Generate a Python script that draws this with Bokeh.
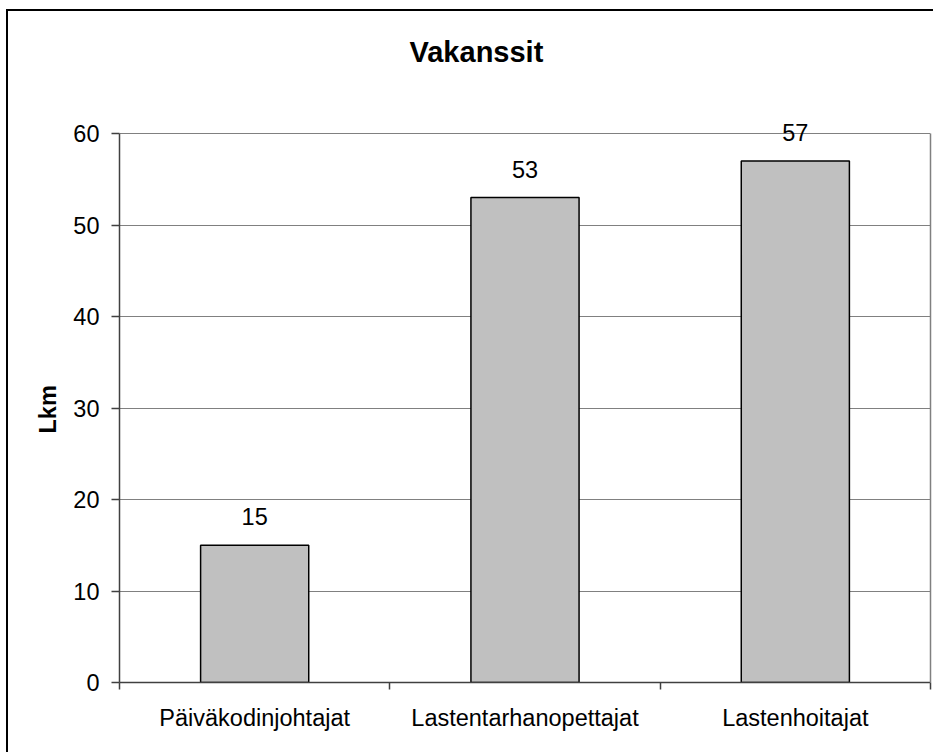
from bokeh.plotting import figure
from bokeh.models import Range1d, FixedTicker, ColumnDataSource, LabelSet, LinearAxis, Title
from bokeh.embed import file_html
from bokeh.resources import INLINE
from bokeh.core.properties import value

categories = ["Päiväkodinjohtajat", "Lastentarhanopettajat", "Lastenhoitajat"]
counts = [15, 53, 57]
y_ticks = [0, 10, 20, 30, 40, 50, 60]
title_text = "Vakanssit"
y_label = "Lkm"

FONT = "Liberation Sans"
AXIS_COLOR = "#404040"
GRID_COLOR = "#808080"

xs = [i + 0.5 for i in range(len(categories))]
src = ColumnDataSource(dict(x=xs, top=counts, label=[str(c) for c in counts]))

y_lo, y_hi = y_ticks[0], y_ticks[-1]
# the visible frame reaches a little above the top tick so the value labels fit
y_view_top = y_hi * 593 / 549

p = figure(width=927, height=743, output_backend="svg", toolbar_location=None,
           x_range=Range1d(0, len(categories)), y_range=Range1d(y_lo, y_view_top),
           min_border_left=111, min_border_right=5, min_border_top=78, min_border_bottom=72)
p.styles = {"border-left": "2px solid black", "border-top": "2px solid black",
            "margin-left": "6px", "margin-top": "9px"}

p.title = Title(text=title_text, align="left", offset=290, vertical_align="top",
                standoff=40, text_font=FONT, text_font_size="29px",
                text_font_style="bold", text_color="black")

p.add_layout(Title(text=y_label, align="left", offset=249, vertical_align="bottom",
                   standoff=20, text_font=FONT, text_font_size="23.5px",
                   text_font_style="bold", text_color="black"), "left")

p.outline_line_color = None
p.background_fill_color = "white"
p.border_fill_color = "white"

p.vbar(x="x", top="top", bottom=0, width=0.4, source=src,
       fill_color="#C0C0C0", line_color="black", line_width=1.5)

p.add_layout(LabelSet(x="x", y="top", text="label", source=src, y_offset=20,
                      text_align="center", text_baseline="alphabetic",
                      text_font=value(FONT), text_font_size="23.5px", text_color="black"))

# x axis
xa = p.xaxis[0]
xa.ticker = FixedTicker(ticks=xs, minor_ticks=list(range(len(categories) + 1)))
xa.major_label_overrides = {x: c for x, c in zip(xs, categories)}
xa.major_tick_out = 0
xa.major_tick_in = 0
xa.minor_tick_out = 7
xa.minor_tick_in = 0
xa.minor_tick_line_color = AXIS_COLOR
xa.minor_tick_line_width = 1.5
xa.axis_line_color = AXIS_COLOR
xa.axis_line_width = 1.5
xa.major_label_standoff = 15
xa.major_label_text_font = FONT
xa.major_label_text_font_size = "23.5px"
xa.major_label_text_color = "black"

# y axis
ya = p.yaxis[0]
ya.bounds = (y_lo, y_hi)
ya.ticker = FixedTicker(ticks=y_ticks)
ya.major_tick_out = 8
ya.major_tick_in = 0
ya.major_tick_line_color = AXIS_COLOR
ya.major_tick_line_width = 1.5
ya.minor_tick_out = 0
ya.minor_tick_in = 0
ya.axis_line_color = AXIS_COLOR
ya.axis_line_width = 1.5
ya.major_label_standoff = 12
ya.major_label_text_font = FONT
ya.major_label_text_font_size = "23.5px"
ya.major_label_text_color = "black"

# right border of the plot area
ra = LinearAxis(bounds=(y_lo, y_hi), ticker=FixedTicker(ticks=[]),
                axis_line_color=GRID_COLOR, axis_line_width=1.5,
                major_tick_line_color=None, minor_tick_line_color=None,
                major_label_text_font_size="0px")
p.add_layout(ra, "right")

p.xgrid.visible = False
p.ygrid.ticker = FixedTicker(ticks=y_ticks)
p.ygrid.grid_line_color = GRID_COLOR
p.ygrid.grid_line_width = 1.2

open("out.html", "w").write(file_html(p, INLINE))
